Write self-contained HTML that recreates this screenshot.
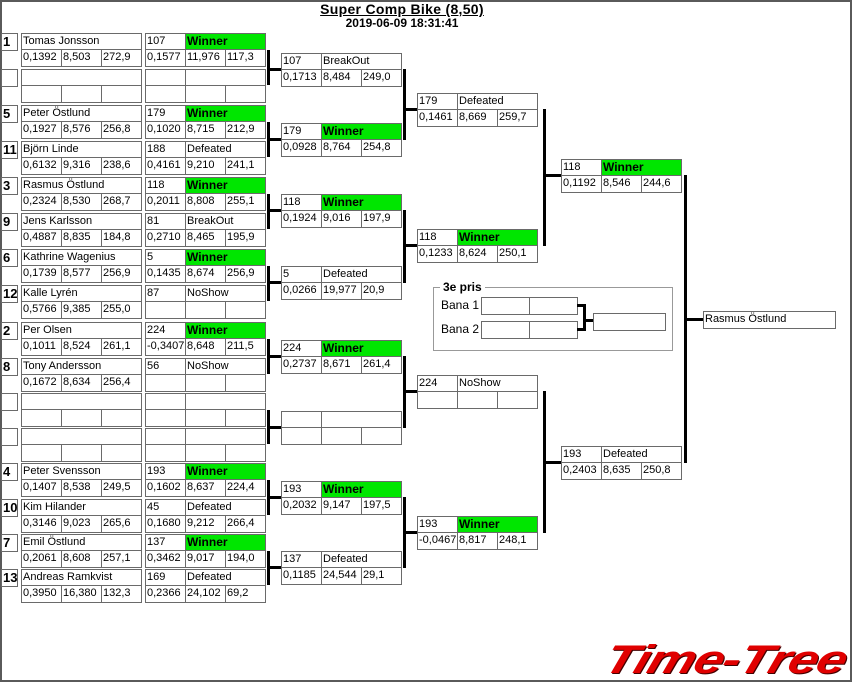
<!DOCTYPE html>
<html><head><meta charset="utf-8"><style>
body{margin:0;width:854px;height:684px;background:#fff;position:relative;overflow:hidden;font-family:"Liberation Sans",sans-serif;font-size:11px;color:#000}
.c{position:absolute;box-sizing:border-box;border:1px solid #6a6a6a;background:#fff;line-height:15px;padding-left:1px;white-space:nowrap;overflow:hidden;height:18px}
.g{background:#00e600;font-weight:bold;font-size:12px}
.r{font-weight:bold;font-size:13px}
.l{position:absolute;background:#000}
#frame{position:absolute;left:0;top:0;width:852px;height:682px;box-sizing:border-box;border:2px solid #5a5a5a}
</style></head><body>
<div id="frame"></div>
<div style="position:absolute;left:0;width:804px;top:1px;text-align:center;font-weight:bold;font-size:14px;text-decoration:underline;line-height:16px;letter-spacing:0.3px">Super Comp Bike (8,50)</div>
<div style="position:absolute;left:0;width:804px;top:16px;text-align:center;font-weight:bold;font-size:12px;line-height:14px">2019-06-09 18:31:41</div>
<div id="root"></div>
<div style="position:absolute;left:433px;top:287px;width:240px;height:64px;box-sizing:border-box;border:1px solid #999"></div>
<div style="position:absolute;left:440px;top:280px;background:#fff;padding:0 3px;font-weight:bold;font-size:12px;line-height:14px">3e pris</div>
<div style="position:absolute;left:441px;top:298px;line-height:14px;font-size:12px">Bana 1</div>
<div style="position:absolute;left:441px;top:322px;line-height:14px;font-size:12px">Bana 2</div>
<div style="position:absolute;left:612px;top:640px;font-family:'Liberation Sans',sans-serif;font-weight:bold;font-style:italic;font-size:40px;color:#e00000;letter-spacing:-1px;line-height:40px;transform-origin:0 0;transform:skewX(-18deg) scaleX(1.33);text-shadow:1px 1px 0 #400">Time-Tree</div>
<script>
var R=document.getElementById('root'),h='';
function cell(x,y,w,t,cls){h+='<div class="c '+(cls||'')+'" style="left:'+x+'px;top:'+y+'px;width:'+(w+1)+'px">'+(t||'')+'</div>';}
function box(x,y,a,b,s){cell(x,y,40,a);cell(x+40,y,80,b,b=='Winner'?'g':'');s=s||['','',''];for(var i=0;i<3;i++)cell(x+40*i,y+16,40,s[i]);}
function line(x,y,w,hh){h+='<div class="l" style="left:'+x+'px;top:'+y+'px;width:'+w+'px;height:'+hh+'px"></div>';}
var tops=[33,69,105,141,177,213,249,285,322,358,393,428,463,499,534,569];
var E=[
['1','Tomas Jonsson',['0,1392','8,503','272,9'],'107','Winner',['0,1577','11,976','117,3']],
['','',null,'','',null],
['5','Peter Östlund',['0,1927','8,576','256,8'],'179','Winner',['0,1020','8,715','212,9']],
['11','Björn Linde',['0,6132','9,316','238,6'],'188','Defeated',['0,4161','9,210','241,1']],
['3','Rasmus Östlund',['0,2324','8,530','268,7'],'118','Winner',['0,2011','8,808','255,1']],
['9','Jens Karlsson',['0,4887','8,835','184,8'],'81','BreakOut',['0,2710','8,465','195,9']],
['6','Kathrine Wagenius',['0,1739','8,577','256,9'],'5','Winner',['0,1435','8,674','256,9']],
['12','Kalle Lyrén',['0,5766','9,385','255,0'],'87','NoShow',null],
['2','Per Olsen',['0,1011','8,524','261,1'],'224','Winner',['-0,3407','8,648','211,5']],
['8','Tony Andersson',['0,1672','8,634','256,4'],'56','NoShow',null],
['','',null,'','',null],
['','',null,'','',null],
['4','Peter Svensson',['0,1407','8,538','249,5'],'193','Winner',['0,1602','8,637','224,4']],
['10','Kim Hilander',['0,3146','9,023','265,6'],'45','Defeated',['0,1680','9,212','266,4']],
['7','Emil Östlund',['0,2061','8,608','257,1'],'137','Winner',['0,3462','9,017','194,0']],
['13','Andreas Ramkvist',['0,3950','16,380','132,3'],'169','Defeated',['0,2366','24,102','69,2']]];
E.forEach(function(e,i){var y=tops[i];h+='<div class="c r" style="left:1px;top:'+y+'px;width:17px">'+e[0]+'</div>';
cell(21,y,120,e[1]);var s=e[2]||['','',''];for(var k=0;k<3;k++)cell(21+40*k,y+16,40,s[k]);box(145,y,e[3],e[4],e[5]);});
var r2=[[53,'107','BreakOut',['0,1713','8,484','249,0']],[123,'179','Winner',['0,0928','8,764','254,8']],[194,'118','Winner',['0,1924','9,016','197,9']],[266,'5','Defeated',['0,0266','19,977','20,9']],[340,'224','Winner',['0,2737','8,671','261,4']],[411,'','',null],[481,'193','Winner',['0,2032','9,147','197,5']],[551,'137','Defeated',['0,1185','24,544','29,1']]];
r2.forEach(function(b,i){box(281,b[0],b[1],b[2],b[3]);var a=tops[2*i]+17,c=tops[2*i+1]+16;line(267,a,3,c-a);line(267,b[0]+15,14,3);});
var r3=[[93,'179','Defeated',['0,1461','8,669','259,7']],[229,'118','Winner',['0,1233','8,624','250,1']],[375,'224','NoShow',null],[516,'193','Winner',['-0,0467','8,817','248,1']]];
r3.forEach(function(b,i){box(417,b[0],b[1],b[2],b[3]);var a=r2[2*i][0]+16,c=r2[2*i+1][0]+17;line(403,a,3,c-a);line(403,b[0]+15,14,3);});
var r4=[[159,'118','Winner',['0,1192','8,546','244,6']],[446,'193','Defeated',['0,2403','8,635','250,8']]];
r4.forEach(function(b,i){box(561,b[0],b[1],b[2],b[3]);var a=r3[2*i][0]+16,c=r3[2*i+1][0]+17;line(543,a,3,c-a);line(543,b[0]+15,18,3);});
line(684,175,3,288);line(684,318,19,3);
cell(703,311,132,'Rasmus Östlund');
cell(481,297,48,'');cell(529,297,48,'');cell(481,321,48,'');cell(529,321,48,'');cell(593,313,72,'');
line(577,304,8,3);line(577,328,8,3);line(583,304,3,27);line(583,319,10,3);
R.innerHTML=h;
</script>
</body></html>
